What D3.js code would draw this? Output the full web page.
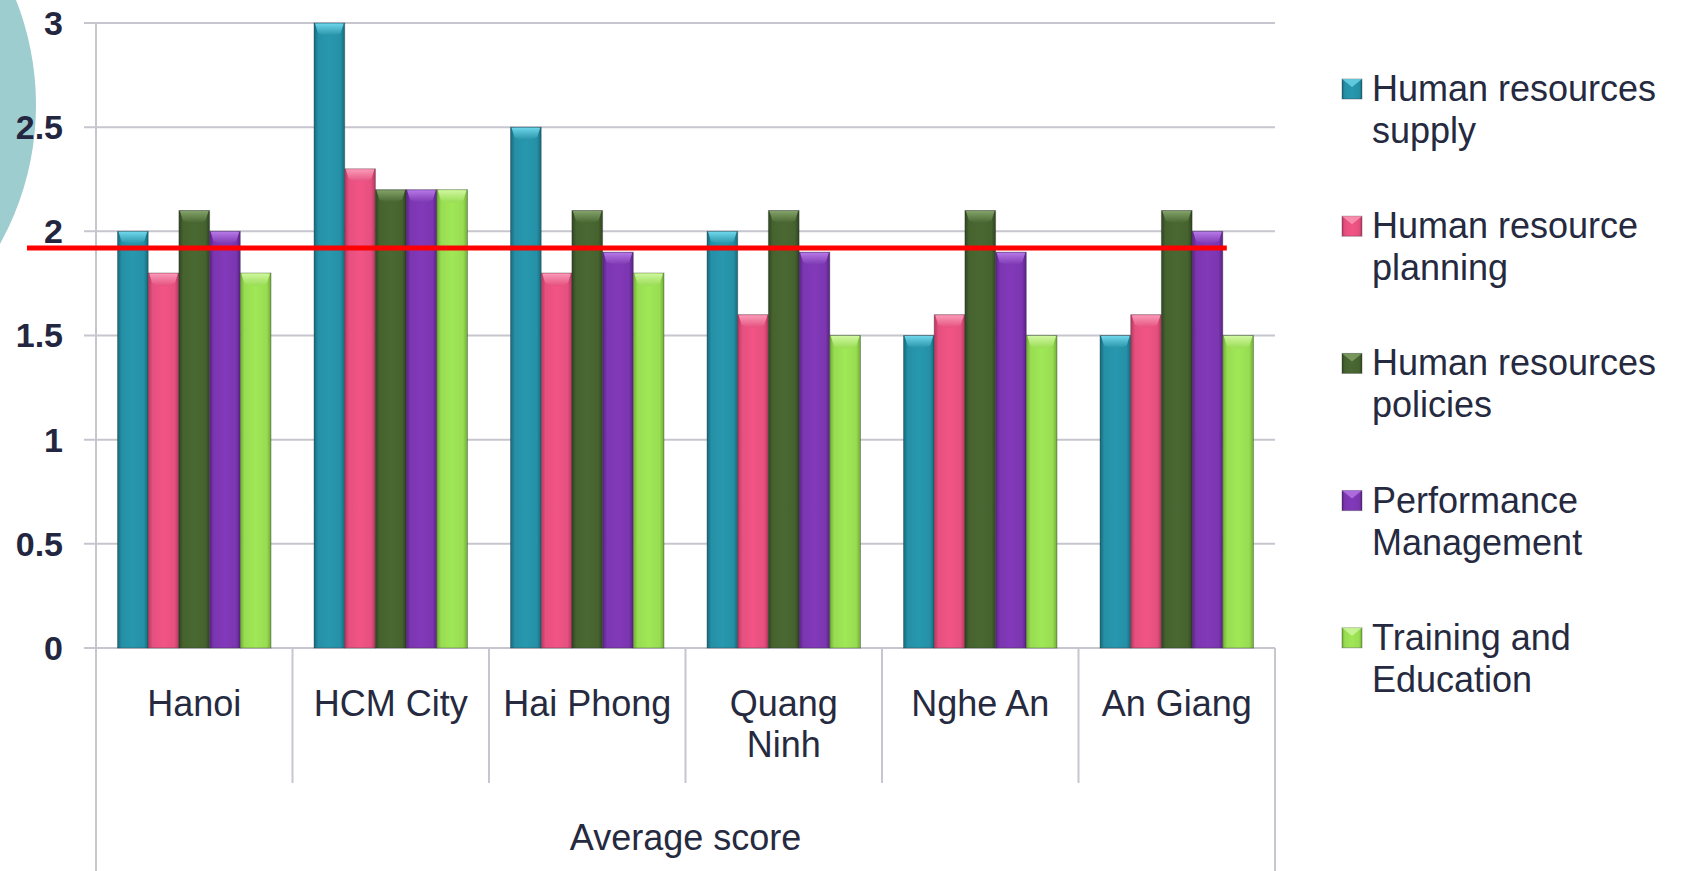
<!DOCTYPE html>
<html>
<head>
<meta charset="utf-8">
<script src="https://cdn.jsdelivr.net/npm/d3@7"></script>
<style>
  html, body { margin: 0; padding: 0; background: #ffffff; }
  svg { display: block; }
  text { font-family: "Liberation Sans", Arial, sans-serif; }
</style>
</head>
<body>
<svg id="chart" width="1683" height="871"></svg>
<script>
// Provinces / cities on the category axis
const categories = ["Hanoi", "HCM City", "Hai Phong", "Quang Ninh", "Nghe An", "An Giang"];

// HR dimensions (legend order)
const seriesNames = [
  "Human resources supply",
  "Human resource planning",
  "Human resources policies",
  "Performance Management",
  "Training and Education"
];

// Average scores per dimension, one value per category
const hrSupply      = [2.0, 3.0, 2.5, 2.0, 1.5, 1.5];
const hrPlanning    = [1.8, 2.3, 1.8, 1.6, 1.6, 1.6];
const hrPolicies    = [2.1, 2.2, 2.1, 2.1, 2.1, 2.1];
const performance   = [2.0, 2.2, 1.9, 1.9, 1.9, 2.0];
const training      = [1.8, 2.2, 1.8, 1.5, 1.5, 1.5];
const seriesValues  = [hrSupply, hrPlanning, hrPolicies, performance, training];

// Y axis ticks
const yTicks = [0, 0.5, 1, 1.5, 2, 2.5, 3];

// Reference level drawn across the chart
const benchmark = 1.92;

const axisTitle = "Average score";

// colours: [base, dark edge, light top]
const palette = [
  ["#2590a6", "#166a7b", "#6fd6ea"],
  ["#e5507f", "#b8365f", "#fa9bb8"],
  ["#46632f", "#2f451f", "#82a268"],
  ["#7b36b0", "#5a2285", "#b678e6"],
  ["#98dc52", "#6fae33", "#d0f7a0"]
];

const svg = d3.select("#chart");
const W = 1683, H = 871;
const plot = { left: 96, right: 1275, top: 23, bottom: 648 };

svg.append("rect").attr("width", W).attr("height", H).attr("fill", "#ffffff");

// decorative disc on the left edge
svg.append("circle")
  .attr("cx", -250).attr("cy", 105).attr("r", 286)
  .attr("fill", "#9dcdcf");

const y = d3.scaleLinear().domain([0, 3]).range([plot.bottom, plot.top]);
const x0 = d3.scaleBand().domain(categories).range([plot.left, plot.right])
  .paddingInner(0.219).paddingOuter(0.1095);
const x1 = d3.scaleBand().domain(d3.range(seriesNames.length)).range([0, x0.bandwidth()]);

const defs = svg.append("defs");
palette.forEach((c, i) => {
  const g = defs.append("linearGradient").attr("id", "body" + i)
    .attr("x1", "0").attr("x2", "1").attr("y1", "0").attr("y2", "0");
  g.append("stop").attr("offset", "0%").attr("stop-color", c[1]);
  g.append("stop").attr("offset", "14%").attr("stop-color", c[0]);
  g.append("stop").attr("offset", "50%").attr("stop-color", d3.color(c[0]).brighter(0.15));
  g.append("stop").attr("offset", "86%").attr("stop-color", c[0]);
  g.append("stop").attr("offset", "100%").attr("stop-color", c[1]);
  const t = defs.append("linearGradient").attr("id", "cap" + i)
    .attr("x1", "0").attr("x2", "0").attr("y1", "0").attr("y2", "1");
  t.append("stop").attr("offset", "0%").attr("stop-color", c[2]);
  t.append("stop").attr("offset", "100%").attr("stop-color", c[0]);
});

// gridlines with short ticks left of the axis
const gridColor = "#c6c6ce";
svg.append("g").selectAll("line").data(yTicks).join("line")
  .attr("x1", plot.left - 12).attr("x2", plot.right)
  .attr("y1", d => y(d)).attr("y2", d => y(d))
  .attr("stroke", gridColor).attr("stroke-width", 2);

// value axis line, running down through the category area
svg.append("line")
  .attr("x1", plot.left).attr("x2", plot.left)
  .attr("y1", plot.top).attr("y2", H)
  .attr("stroke", gridColor).attr("stroke-width", 2);
svg.append("line")
  .attr("x1", plot.right).attr("x2", plot.right)
  .attr("y1", plot.bottom).attr("y2", H)
  .attr("stroke", gridColor).attr("stroke-width", 2);

// category separators
const step = x0.step();
svg.append("g").selectAll("line").data(categories.slice(1)).join("line")
  .attr("x1", d => x0(d) - step * x0.paddingOuter())
  .attr("x2", d => x0(d) - step * x0.paddingOuter())
  .attr("y1", plot.bottom).attr("y2", 783)
  .attr("stroke", gridColor).attr("stroke-width", 2);

// y tick labels
svg.append("g").selectAll("text").data(yTicks).join("text")
  .attr("x", 63).attr("y", d => y(d)).attr("dy", "0.35em")
  .attr("text-anchor", "end")
  .attr("font-size", 34).attr("font-weight", "bold")
  .attr("fill", "#232640")
  .text(d => d);

// bars
const bw = x1.bandwidth();
const barData = [];
categories.forEach((cat, ci) => {
  seriesValues.forEach((vals, si) => barData.push({ cat, si, v: vals[ci] }));
});
const bars = svg.append("g").selectAll("g").data(barData).join("g")
  .attr("transform", d => `translate(${x0(d.cat) + x1(d.si)},0)`);
bars.append("rect")
  .attr("x", 0).attr("width", bw)
  .attr("y", d => y(d.v)).attr("height", d => y(0) - y(d.v))
  .attr("fill", d => `url(#body${d.si})`)
  .attr("stroke", "rgba(40,40,50,0.35)").attr("stroke-width", 1);
// bevelled top face
bars.append("path")
  .attr("d", d => {
    const t = y(d.v);
    return `M1,${t + 0.5} L${bw - 1},${t + 0.5} L${bw - 4},${t + 10} Q${bw / 2},${t + 16} 4,${t + 10} Z`;
  })
  .attr("fill", d => `url(#cap${d.si})`);

// red reference line
const lastCat = categories[categories.length - 1];
svg.append("line")
  .attr("x1", 27)
  .attr("x2", x0(lastCat) + x1(3) + bw + 4)
  .attr("y1", y(benchmark)).attr("y2", y(benchmark))
  .attr("stroke", "#ff0000").attr("stroke-width", 5);

// word wrap helper
function wrap(sel, width, lineH) {
  sel.each(function () {
    const t = d3.select(this);
    const words = t.text().split(/\s+/);
    const x = t.attr("x");
    t.text(null);
    let line = [];
    let ts = t.append("tspan").attr("x", x).attr("dy", 0);
    words.forEach(w => {
      line.push(w);
      ts.text(line.join(" "));
      if (ts.node().getComputedTextLength() > width && line.length > 1) {
        line.pop();
        ts.text(line.join(" "));
        line = [w];
        ts = t.append("tspan").attr("x", x).attr("dy", lineH).text(w);
      }
    });
  });
}

// category labels
svg.append("g").selectAll("text").data(categories).join("text")
  .attr("x", d => x0(d) + x0.bandwidth() / 2)
  .attr("y", 716)
  .attr("text-anchor", "middle")
  .attr("font-size", 36)
  .attr("fill", "#262a40")
  .text(d => d)
  .call(wrap, 180, 41);

// axis title
svg.append("text")
  .attr("x", (plot.left + plot.right) / 2).attr("y", 850)
  .attr("text-anchor", "middle")
  .attr("font-size", 36).attr("fill", "#262a40")
  .text(axisTitle);

// legend
const legend = svg.append("g").selectAll("g").data(seriesNames).join("g")
  .attr("transform", (d, i) => `translate(1342,${101 + i * 137.2})`);
legend.append("rect")
  .attr("x", 0).attr("y", -22).attr("width", 20).attr("height", 20)
  .attr("fill", (d, i) => `url(#body${i})`)
  .attr("stroke", "rgba(40,40,50,0.35)").attr("stroke-width", 1);
legend.append("path")
  .attr("d", "M0,-22 L20,-22 L10,-14 Z")
  .attr("fill", (d, i) => palette[i][2]).attr("opacity", 0.8);
legend.append("text")
  .attr("x", 30).attr("y", 0)
  .attr("font-size", 36).attr("fill", "#262a40")
  .text(d => d)
  .call(wrap, 300, 42);
</script>
</body>
</html>
